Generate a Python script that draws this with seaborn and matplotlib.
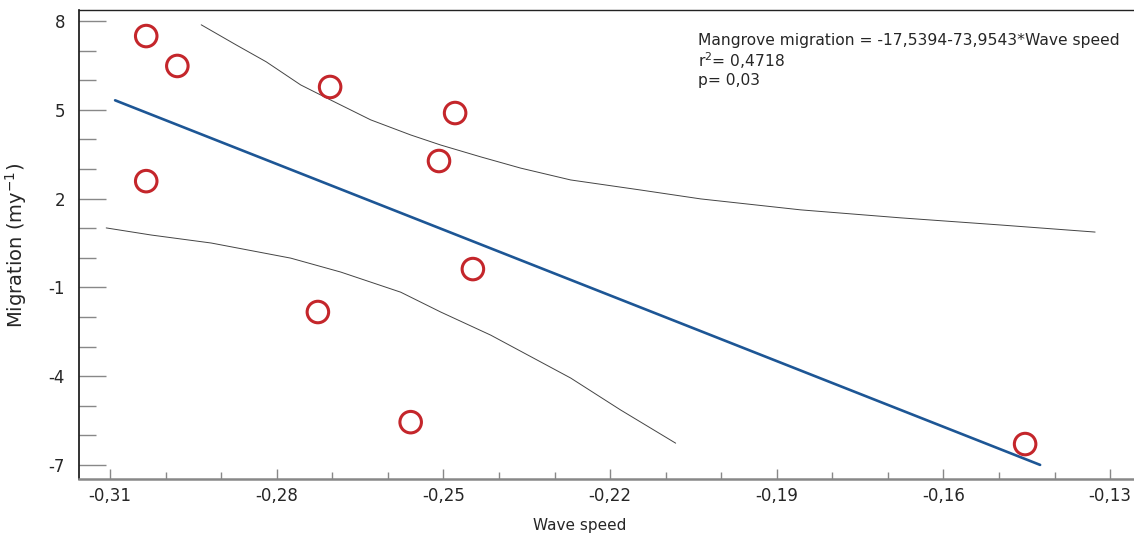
import numpy as np
import pandas as pd
import matplotlib
matplotlib.use("Agg")
import matplotlib.pyplot as plt
import seaborn as sns
from matplotlib.ticker import MultipleLocator, FixedLocator

# ---- data ----
wave_speed = [-0.3035, -0.2979, -0.3035, -0.2704, -0.2479, -0.2508, -0.2447, -0.2726, -0.2559, -0.1453]
migration = [7.49, 6.48, 2.59, 5.77, 4.89, 3.27, -0.38, -1.83, -5.55, -6.29]

intercept = -17.5394
slope = -73.9543
reg_x = [-0.3091, -0.1426]

upper_x = [-0.2936, -0.2873, -0.2819, -0.2757, -0.2703, -0.2631, -0.2559, -0.2505, -0.2433,
           -0.2361, -0.2271, -0.2145, -0.2037, -0.1857, -0.1677, -0.1498, -0.1327]
upper_y = [7.87, 7.19, 6.62, 5.84, 5.33, 4.66, 4.15, 3.81, 3.41,
           3.03, 2.63, 2.29, 1.99, 1.62, 1.35, 1.11, 0.87]
lower_x = [-0.3107, -0.3026, -0.2918, -0.2775, -0.2685, -0.2577, -0.2505, -0.2415, -0.2271, -0.2181, -0.2082]
lower_y = [1.01, 0.77, 0.50, -0.01, -0.48, -1.16, -1.83, -2.61, -4.06, -5.14, -6.26]

x_ticks = [-0.31, -0.28, -0.25, -0.22, -0.19, -0.16, -0.13]
x_labels = ["-0,31", "-0,28", "-0,25", "-0,22", "-0,19", "-0,16", "-0,13"]
y_ticks = [8, 5, 2, -1, -4, -7]
y_labels = ["8", "5", "2", "-1", "-4", "-7"]

equation_text = "Mangrove migration = -17,5394-73,9543*Wave speed"
r2_text = "r$^2$= 0,4718"
p_text = "p= 0,03"

# ---- figure ----
sns.set_style("white")
plt.rcParams['font.family'] = ['DejaVu Sans']

fig = plt.figure(figsize=(11.34, 5.40), dpi=100)
ax = fig.add_axes([79/1134, 1 - 479/540, 1 - 79/1134, (479 - 10)/540])

reg_df = pd.DataFrame({"x": reg_x, "y": [intercept + slope * v for v in reg_x]})
sns.lineplot(data=reg_df, x="x", y="y", ax=ax, color="#1d5695", linewidth=1.9,
             sort=False, estimator=None)
sns.lineplot(x=upper_x, y=upper_y, ax=ax, color="#444444", linewidth=0.7,
             sort=False, estimator=None)
sns.lineplot(x=lower_x, y=lower_y, ax=ax, color="#444444", linewidth=0.7,
             sort=False, estimator=None)
sns.scatterplot(x=wave_speed, y=migration, ax=ax, s=240, marker="o",
                facecolor="none", edgecolor="#c4262b", linewidth=2.2, zorder=5)

ax.set_xlim(-0.3156, -0.1257)
ax.set_ylim(-7.47, 8.37)

ax.xaxis.set_major_locator(FixedLocator(x_ticks))
ax.set_xticklabels(x_labels)
ax.xaxis.set_minor_locator(MultipleLocator(0.01))
ax.yaxis.set_major_locator(FixedLocator(y_ticks))
ax.set_yticklabels(y_labels)
ax.yaxis.set_minor_locator(MultipleLocator(1))

ax.tick_params(axis="y", which="major", direction="in", length=19.5, width=1.0,
               color="#888888", pad=10, labelsize=12, left=True)
ax.tick_params(axis="y", which="minor", direction="in", length=12, width=1.0,
               color="#888888", left=True)
ax.tick_params(axis="x", which="major", direction="in", length=7, width=1.0,
               color="#888888", pad=6, labelsize=12, bottom=True)
ax.tick_params(axis="x", which="minor", direction="in", length=5, width=1.0,
               color="#888888", bottom=True)

for side in ["left", "top", "bottom"]:
    ax.spines[side].set_visible(True)
ax.spines["right"].set_visible(False)
ax.spines["left"].set_color("#111111")
ax.spines["left"].set_linewidth(1.2)
ax.spines["top"].set_color("#222222")
ax.spines["top"].set_linewidth(1.0)
ax.spines["bottom"].set_color("#888888")
ax.spines["bottom"].set_linewidth(1.8)

ax.set_xlabel("Wave speed", fontsize=11)
ax.xaxis.set_label_coords((580 - 79) / (1134 - 79), -(518 - 479) / (479 - 10))
ax.set_ylabel("Migration (my$^{-1}$)", fontsize=14)
ax.yaxis.set_label_coords(-(79 - 29) / (1134 - 79), (479 - 245) / (479 - 10))

fig.text(698/1134, 1 - 40/540, equation_text, fontsize=11.2, va="center", ha="left")
fig.text(698/1134, 1 - 61/540, r2_text, fontsize=11.2, va="center", ha="left")
fig.text(698/1134, 1 - 81/540, p_text, fontsize=11.2, va="center", ha="left")

ax.grid(False)
fig.savefig("out.png", dpi=100)
